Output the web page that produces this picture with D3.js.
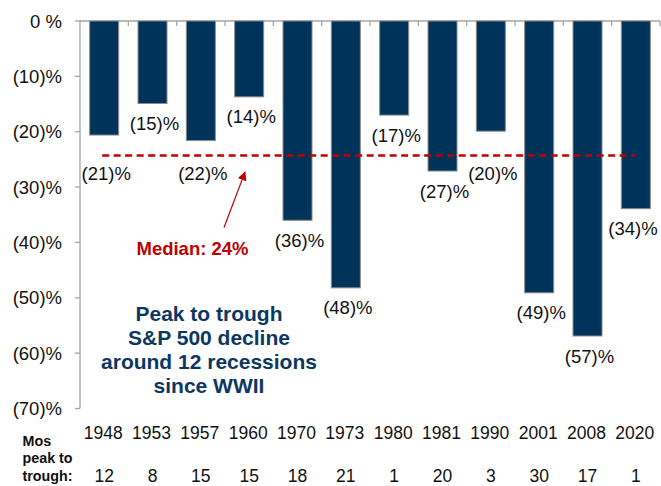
<!DOCTYPE html>
<html lang="en">
<head>
    <meta charset="UTF-8">
    <script src="https://cdn.jsdelivr.net/npm/d3@7"></script>
    <title>S&amp;P 500 recession declines</title>
    <style>
        body { margin: 0; background: white; }
        text { font-family: 'Liberation Sans', Arial, sans-serif; }
    </style>
</head>
<body>
<div class="chart"></div>
<script>
    // data
    const years = ["1948", "1953", "1957", "1960", "1970", "1973", "1980", "1981", "1990", "2001", "2008", "2020"];
    const declines = [-20.6, -14.9, -21.6, -13.7, -36.0, -48.2, -17.0, -27.1, -19.9, -49.1, -56.9, -33.9];
    const declineLabels = ["(21)%", "(15)%", "(22)%", "(14)%", "(36)%", "(48)%", "(17)%", "(27)%", "(20)%", "(49)%", "(57)%", "(34)%"];
    const monthsPeakToTrough = ["12", "8", "15", "15", "18", "21", "1", "20", "3", "30", "17", "1"];
    const yTicks = [0, -10, -20, -30, -40, -50, -60, -70];
    const yTickLabels = ["0 %", "(10)%", "(20)%", "(30)%", "(40)%", "(50)%", "(60)%", "(70)%"];
    const median = -24.3;
    const noteLines = ["Peak to trough", "S&P 500 decline", "around 12 recessions", "since WWII"];

    const width = 661, height = 486;
    const navy = "#003359", red = "#c00000", axisGrey = "#a6a6a6";

    const svg = d3.select(".chart").append("svg")
        .attr("width", width)
        .attr("height", height);

    const x = d3.scaleBand()
        .domain(years)
        .range([80, 660])
        .paddingInner(0.4)
        .paddingOuter(0.2);
    const y = d3.scaleLinear()
        .domain([-70, 0])
        .range([408.5, 21]);
    const cx = d => x(d) + x.bandwidth() / 2;
    const step = x.step();

    // left axis
    svg.append("line")
        .attr("x1", 80).attr("x2", 80)
        .attr("y1", y(0)).attr("y2", y(-70))
        .attr("stroke", axisGrey).attr("stroke-width", 1.3);
    svg.selectAll(".ytick")
        .data(yTicks)
        .enter()
        .append("line")
        .attr("x1", 75).attr("x2", 80)
        .attr("y1", d => y(d)).attr("y2", d => y(d))
        .attr("stroke", axisGrey).attr("stroke-width", 1.3);
    svg.selectAll(".ylab")
        .data(yTicks)
        .enter()
        .append("text")
        .attr("x", 62)
        .attr("y", d => y(d))
        .attr("dy", "0.36em")
        .attr("text-anchor", "end")
        .attr("font-size", "18.5px")
        .attr("fill", "#111")
        .text((d, i) => yTickLabels[i]);

    // top (zero) axis with ticks between categories
    svg.append("line")
        .attr("x1", 80).attr("x2", 660)
        .attr("y1", y(0)).attr("y2", y(0))
        .attr("stroke", axisGrey).attr("stroke-width", 1.3);
    svg.selectAll(".xtick")
        .data(years)
        .enter()
        .append("line")
        .attr("x1", d => cx(d) + step / 2).attr("x2", d => cx(d) + step / 2)
        .attr("y1", y(0)).attr("y2", y(0) + 5)
        .attr("stroke", axisGrey).attr("stroke-width", 1.3);

    // bars
    svg.selectAll(".bar")
        .data(years)
        .enter()
        .append("rect")
        .attr("x", d => x(d))
        .attr("y", y(0))
        .attr("width", x.bandwidth())
        .attr("height", (d, i) => y(declines[i]) - y(0))
        .attr("fill", navy)
        .attr("stroke", "#8c8c8c")
        .attr("stroke-width", 1);

    // median line
    const medY = y(median);
    svg.append("line")
        .attr("x1", cx(years[0]) - 2)
        .attr("x2", cx(years[years.length - 1]) - 1)
        .attr("y1", medY).attr("y2", medY)
        .attr("stroke", red)
        .attr("stroke-width", 2.6)
        .attr("stroke-dasharray", "7,4.5");

    // value labels under bars, pushed below the median line when they would hit it
    svg.selectAll(".vlab")
        .data(years)
        .enter()
        .append("text")
        .attr("x", d => Math.min(cx(d) + 2, width - 28))
        .attr("y", (d, i) => {
            let ly = y(declines[i]) + 20;
            if (Math.abs(ly - medY) < 14) ly = medY + 18;
            return ly;
        })
        .attr("dy", "0.36em")
        .attr("text-anchor", "middle")
        .attr("font-size", "18.5px")
        .attr("fill", "#111")
        .text((d, i) => declineLabels[i]);

    // years and months rows
    svg.selectAll(".year")
        .data(years)
        .enter()
        .append("text")
        .attr("x", d => cx(d) - 1)
        .attr("y", 433)
        .attr("dy", "0.36em")
        .attr("text-anchor", "middle")
        .attr("font-size", "17.5px")
        .attr("fill", "#111")
        .text(d => d);
    svg.selectAll(".mos")
        .data(years)
        .enter()
        .append("text")
        .attr("x", d => cx(d))
        .attr("y", 475.5)
        .attr("dy", "0.36em")
        .attr("text-anchor", "middle")
        .attr("font-size", "17.5px")
        .attr("fill", "#111")
        .text((d, i) => monthsPeakToTrough[i]);

    const rowTitle = svg.append("text")
        .attr("x", 22.5)
        .attr("font-size", "14.3px")
        .attr("font-weight", "bold")
        .attr("fill", "#111");
    ["Mos", "peak to", "trough:"].forEach((t, i) => {
        rowTitle.append("tspan")
            .attr("x", 22.5)
            .attr("y", 441 + i * 17.2)
            .attr("dy", "0.36em")
            .text(t);
    });

    // median annotation with arrow
    svg.append("defs").append("marker")
        .attr("id", "arrow")
        .attr("viewBox", "0 0 10 10")
        .attr("refX", 9).attr("refY", 5)
        .attr("markerWidth", 9).attr("markerHeight", 9)
        .attr("markerUnits", "userSpaceOnUse")
        .attr("orient", "auto")
        .append("path")
        .attr("d", "M0,0 L10,5 L0,10 z")
        .attr("fill", red);
    svg.append("line")
        .attr("x1", 224).attr("y1", y(-37.3))
        .attr("x2", 245).attr("y2", y(-27.3))
        .attr("stroke", red)
        .attr("stroke-width", 1.2)
        .attr("marker-end", "url(#arrow)");
    svg.append("text")
        .attr("x", 192.5)
        .attr("y", y(-41))
        .attr("dy", "0.36em")
        .attr("text-anchor", "middle")
        .attr("font-size", "18.5px")
        .attr("font-weight", "bold")
        .attr("fill", red)
        .text("Median: 24%");

    // explanatory note
    const note = svg.append("text")
        .attr("text-anchor", "middle")
        .attr("font-size", "21px")
        .attr("font-weight", "bold")
        .attr("fill", "#0c3762");
    noteLines.forEach((t, i) => {
        note.append("tspan")
            .attr("x", 209)
            .attr("y", 313 + i * 24)
            .attr("dy", "0.36em")
            .text(t);
    });
</script>
</body>
</html>
